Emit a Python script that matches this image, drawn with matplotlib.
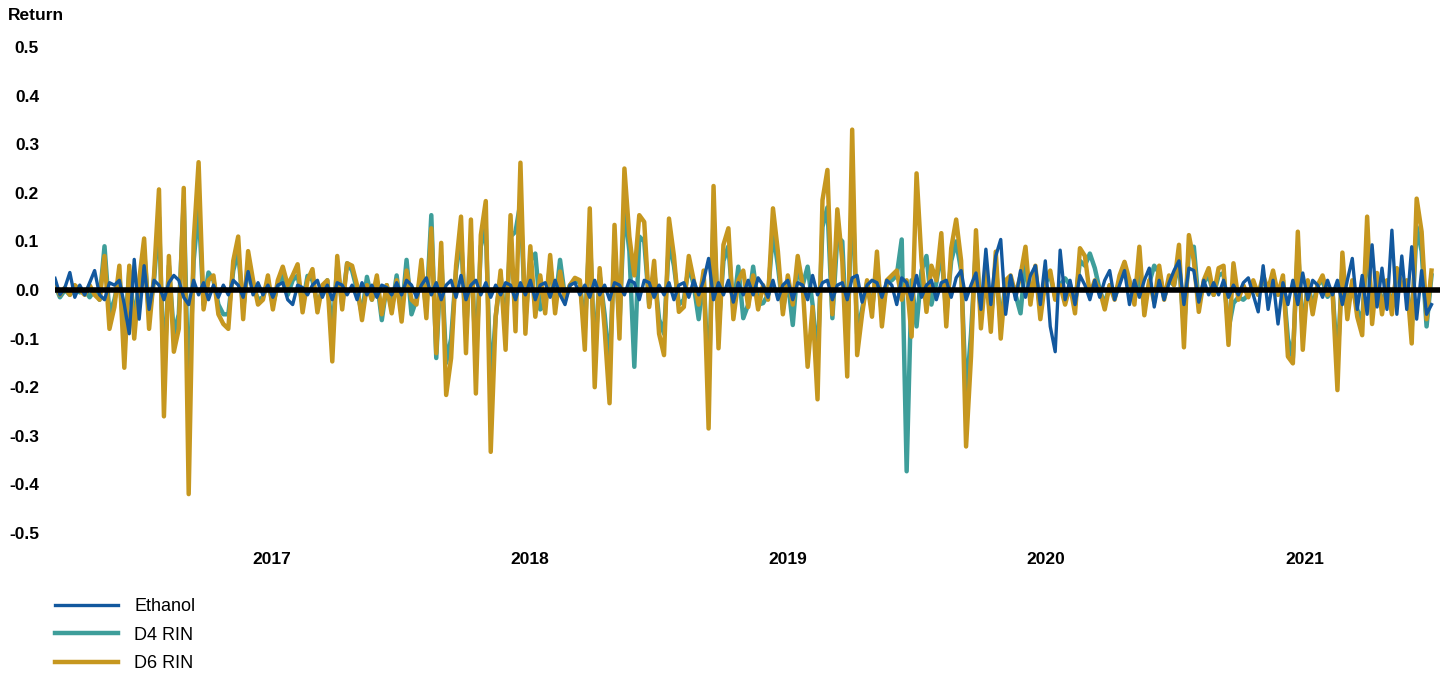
import pandas as pd
import matplotlib.pyplot as plt

# weekly returns, first week starting 2016-03-01
start_date = "2016-03-01"

d6_rin = [
    # 2016
    0.01, -0.01, 0.005, -0.01, 0.01, 0.0, -0.01, 0.01, -0.01, -0.02,
    0.07, -0.08, -0.035, 0.05, -0.16, 0.05, -0.1, 0.02, 0.106, -0.08,
    0.03, 0.207, -0.26, 0.07, -0.127, -0.08, 0.21, -0.42, 0.10, 0.263,
    -0.04, 0.02, 0.03, -0.05, -0.07, -0.08, 0.06, 0.11, -0.06, 0.08,
    0.02, -0.03, -0.02, 0.03, -0.04, 0.02, 0.048, 0.01, 0.03, 0.053,
    # 2017
    -0.046, 0.02, 0.043, -0.046, 0.01, 0.02, -0.147, 0.07, -0.04, 0.055,
    0.05, 0.01, -0.062, 0.01, -0.02, 0.03, -0.05, 0.01, -0.048, 0.02,
    -0.065, 0.04, -0.02, -0.03, 0.062, -0.058, 0.127, -0.13, 0.097, -0.216,
    -0.14, 0.05, 0.151, -0.13, 0.145, -0.213, 0.113, 0.183, -0.333, -0.055,
    0.04, -0.123, 0.154, -0.085, 0.262, -0.09, 0.09, -0.055, 0.03, -0.048,
    # 2018
    0.072, -0.048, 0.038, -0.02, 0.01, 0.025, 0.02, -0.123, 0.168, -0.2,
    0.045, -0.08, -0.233, 0.134, -0.1, 0.25, 0.11, 0.03, 0.154, 0.14,
    -0.035, 0.06, -0.09, -0.134, 0.147, 0.07, -0.045, -0.035, 0.07, 0.02,
    -0.03, 0.04, -0.285, 0.214, -0.12, 0.093, 0.127, -0.06, 0.02, 0.04,
    -0.035, 0.03, -0.04, 0.01, -0.02, 0.168, 0.079, -0.05, 0.03, -0.03,
    # 2019
    0.07, 0.01, -0.158, -0.035, -0.225, 0.185, 0.247, -0.05, 0.166, 0.06,
    -0.178, 0.33, -0.134, -0.05, 0.02, -0.055, 0.079, -0.075, 0.02, 0.03,
    0.04, -0.02, 0.02, -0.096, 0.24, 0.06, -0.045, 0.05, 0.02, 0.117,
    -0.075, 0.086, 0.145, 0.06, -0.322, -0.137, 0.123, -0.079, 0.04, -0.086,
    0.079, -0.1, 0.02, 0.03, -0.01, 0.03, 0.089, -0.03, 0.05, -0.06,
    # 2020
    0.02, 0.04, -0.02, 0.01, -0.03, 0.01, -0.048, 0.086, 0.07, -0.01,
    0.02, 0.0, -0.04, 0.01, -0.02, 0.03, 0.058, 0.02, -0.03, 0.089,
    -0.052, 0.02, -0.025, 0.05, -0.02, 0.03, 0.01, 0.093, -0.118, 0.113,
    0.06, -0.045, 0.02, 0.045, -0.01, 0.045, 0.05, -0.113, 0.055, -0.02,
    0.01, -0.015, 0.02, -0.01, 0.03, 0.0, 0.04, -0.01, 0.03, -0.137,
    # 2021
    -0.151, 0.12, -0.123, 0.02, -0.05, 0.01, 0.03, -0.01, 0.0, -0.206,
    0.077, -0.06, 0.02, -0.055, -0.093, 0.151, -0.07, 0.035, -0.05, 0.02,
    -0.05, 0.045, 0.01, 0.02, -0.11, 0.188, 0.12, -0.06, 0.04,
]

d4_rin = [
    0.01, -0.015, 0.0, -0.01, 0.005, -0.005, 0.0, -0.015, 0.0, -0.02,
    0.09, -0.05, -0.02, 0.03, -0.1, 0.04, -0.06, 0.01, 0.08, -0.05,
    0.02, 0.15, -0.18, 0.05, -0.09, -0.05, 0.185, -0.23, 0.06, 0.17,
    -0.03, 0.036, 0.02, -0.03, -0.05, -0.05, 0.04, 0.08, -0.04, 0.05,
    0.01, -0.02, -0.015, 0.02, -0.03, 0.01, 0.03, -0.01, 0.02, 0.03,
    -0.03, 0.029, 0.02, -0.03, 0.0, 0.02, -0.09, 0.05, -0.03, 0.055,
    0.04, 0.0, -0.05, 0.027, -0.02, 0.02, -0.062, 0.01, -0.04, 0.03,
    -0.05, 0.062, -0.05, -0.02, 0.04, -0.04, 0.154, -0.14, 0.07, -0.15,
    -0.1, 0.04, 0.11, -0.09, 0.1, -0.15, 0.09, 0.13, -0.2, -0.055,
    0.03, -0.08, 0.11, 0.12, 0.18, -0.06, 0.06, 0.075, -0.04, -0.03,
    0.05, -0.03, 0.062, -0.015, 0.01, 0.02, 0.015, -0.08, 0.12, -0.14,
    0.03, -0.05, -0.16, 0.09, -0.07, 0.17, 0.08, -0.158, 0.11, 0.1,
    -0.03, 0.04, -0.06, -0.09, 0.1, 0.05, -0.03, -0.02, 0.05, 0.01,
    -0.06, 0.03, -0.2, 0.15, -0.08, 0.06, 0.09, -0.04, 0.048, -0.058,
    -0.03, 0.048, -0.03, -0.027, -0.01, 0.12, 0.05, -0.04, 0.02, -0.072,
    0.05, 0.01, 0.048, -0.03, -0.15, 0.13, 0.17, -0.058, 0.11, 0.1,
    -0.12, 0.22, -0.09, -0.04, 0.015, -0.04, 0.05, -0.05, 0.015, 0.02,
    0.03, 0.104, -0.373, 0.02, -0.075, 0.04, 0.07, -0.03, 0.015, 0.08,
    -0.05, 0.06, 0.1, 0.04, -0.22, -0.09, 0.09, -0.05, 0.03, -0.06,
    0.05, -0.07, 0.015, 0.02, -0.01, -0.048, 0.06, -0.02, 0.035, -0.04,
    0.015, 0.03, -0.015, 0.01, 0.024, 0.01, -0.03, 0.06, 0.05, 0.075,
    0.045, 0.0, -0.03, 0.01, -0.015, 0.02, 0.045, 0.015, -0.02, 0.029,
    -0.035, 0.015, 0.05, 0.035, -0.015, 0.02, 0.01, 0.06, -0.08, 0.08,
    0.089, -0.03, 0.015, 0.03, -0.01, 0.03, 0.035, -0.08, -0.027, -0.015,
    -0.02, -0.01, 0.015, -0.01, 0.02, 0.0, 0.03, -0.01, 0.02, -0.1,
    -0.14, 0.09, -0.09, 0.015, -0.035, 0.01, 0.02, -0.014, 0.0, -0.15,
    0.05, -0.04, 0.015, -0.04, -0.065, 0.1, -0.05, 0.025, -0.035, 0.015,
    -0.035, 0.03, 0.01, 0.015, -0.08, 0.13, 0.08, -0.075, 0.03,
]

ethanol = [
    0.024, -0.01, 0.005, 0.036, -0.015, 0.01, -0.01, 0.015, 0.04, -0.01,
    -0.02, 0.015, 0.01, 0.02, -0.03, -0.09, 0.063, -0.06, 0.05, -0.04,
    0.02, 0.01, -0.02, 0.015, 0.03, 0.02, -0.015, -0.03, 0.02, -0.01,
    0.015, -0.02, 0.01, -0.015, 0.01, -0.01, 0.02, 0.01, -0.015, 0.038,
    -0.01, 0.015, -0.01, 0.01, -0.015, 0.01, 0.015, -0.02, -0.03, 0.01,
    0.005, -0.01, 0.01, 0.02, -0.015, 0.01, -0.02, 0.015, 0.01, -0.01,
    0.01, -0.02, 0.015, -0.01, 0.01, -0.015, 0.01, 0.005, -0.01, 0.015,
    -0.01, 0.02, 0.01, -0.015, 0.01, 0.025, -0.01, 0.015, -0.02, 0.01,
    0.02, -0.015, 0.03, -0.02, 0.01, 0.02, -0.01, 0.015, -0.015, 0.01,
    -0.01, 0.015, 0.01, -0.02, 0.015, -0.01, 0.02, -0.02, 0.01, 0.015,
    -0.015, 0.02, -0.01, -0.03, 0.01, 0.015, -0.01, 0.01, -0.015, 0.02,
    -0.01, 0.01, -0.02, 0.015, 0.01, -0.01, 0.02, 0.015, -0.02, 0.02,
    0.015, -0.015, 0.01, -0.01, 0.015, -0.02, 0.01, 0.015, -0.015, 0.02,
    -0.01, 0.02, 0.065, -0.02, 0.015, -0.01, 0.02, -0.025, 0.015, -0.01,
    0.02, -0.01, 0.025, 0.01, -0.015, 0.02, -0.02, 0.01, 0.02, -0.02,
    0.015, 0.01, -0.02, 0.03, -0.01, 0.015, 0.02, -0.02, 0.01, 0.015,
    -0.02, 0.025, 0.03, -0.025, 0.01, 0.02, 0.015, -0.015, 0.02, 0.01,
    -0.03, 0.025, 0.015, -0.02, 0.03, -0.015, 0.01, 0.02, -0.02, 0.015,
    0.02, -0.015, 0.025, 0.04, -0.02, 0.01, 0.035, -0.04, 0.084, -0.03,
    0.07, 0.104, -0.05, 0.03, -0.02, 0.04, -0.015, 0.03, 0.05, -0.03,
    0.06, -0.075, -0.127, 0.082, -0.02, 0.02, -0.03, 0.03, 0.01, -0.02,
    0.02, -0.015, 0.02, 0.04, -0.02, 0.01, 0.04, -0.03, 0.02, -0.015,
    0.02, 0.045, -0.035, 0.02, -0.02, 0.015, 0.04, 0.06, -0.03, 0.045,
    0.04, -0.025, 0.02, -0.01, 0.015, -0.01, 0.02, -0.015, 0.01, -0.01,
    0.015, 0.025, -0.01, -0.045, 0.05, -0.04, 0.02, -0.07, 0.015, -0.03,
    0.02, -0.03, 0.035, -0.02, 0.02, 0.01, -0.015, 0.02, -0.01, 0.02,
    -0.03, 0.02, 0.065, -0.04, 0.03, -0.05, 0.093, -0.035, 0.045, -0.04,
    0.123, -0.05, 0.07, -0.04, 0.089, -0.06, 0.04, -0.05, -0.03,
]

years = ["2017", "2018", "2019", "2020", "2021"]
y_ticks = [0.5, 0.4, 0.3, 0.2, 0.1, 0.0, -0.1, -0.2, -0.3, -0.4, -0.5]

blue = "#12589E"
teal = "#3E9E9A"
gold = "#C6971F"

plt.rcParams['font.family'] = ['Liberation Sans', 'DejaVu Sans']

dates = pd.date_range(start_date, periods=len(d6_rin), freq="7D")

fig = plt.figure(figsize=(14.5, 6.75), dpi=100)
ax = fig.add_axes([55 / 1450, 142 / 675, 1385 / 1450, 486 / 675])

ax.plot(dates, d4_rin, color=teal, lw=3.2, label="D4 RIN", zorder=2)
ax.plot(dates, d6_rin, color=gold, lw=3.2, label="D6 RIN", zorder=3)
ax.plot(dates, ethanol, color=blue, lw=2.4, label="Ethanol", zorder=4)
ax.axhline(0, color="black", lw=4.0, zorder=5)

ax.set_ylim(-0.5, 0.5)
ax.set_xlim(dates[0], dates[-1] + pd.Timedelta(days=12))
ax.set_yticks(y_ticks)
ax.set_yticklabels([f"{v:.1f}" for v in y_ticks], fontsize=12.5, fontweight="bold")
ax.set_xticks([pd.Timestamp(y + "-01-01") for y in years])
ax.set_xticklabels(years, fontsize=12.5, fontweight="bold")
ax.tick_params(axis="both", length=0)
ax.tick_params(axis="y", pad=11.5)
ax.tick_params(axis="x", pad=14)
for s in ax.spines.values():
    s.set_visible(False)

fig.text(8 / 1450, 1 - 16 / 675, "Return", fontsize=12.5, fontweight="bold", va="center", ha="left")

# legend order: Ethanol, D4, D6
h, l = ax.get_legend_handles_labels()
order = [2, 0, 1]
fig.legend([h[i] for i in order], [l[i] for i in order], loc="upper left",
           bbox_to_anchor=(55 / 1450, 1 - 598 / 675), frameon=False,
           fontsize=13, handlelength=3.5, handletextpad=0.9, labelspacing=0.64,
           borderpad=0, borderaxespad=0)

fig.savefig("out.png", dpi=100, facecolor="white")
